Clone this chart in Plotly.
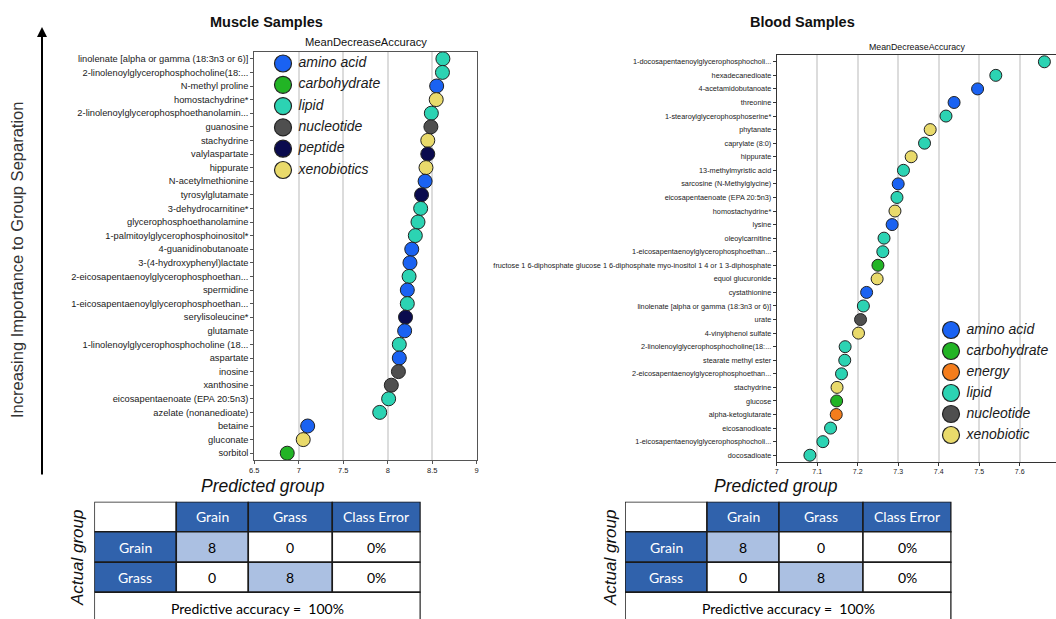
import plotly.graph_objects as go

W, H = 1056, 619

# ---------------- data ----------------
muscle_metabolites = [
    "linolenate [alpha or gamma (18:3n3 or 6)]",
    "2-linolenoylglycerophosphocholine(18:...",
    "N-methyl proline",
    "homostachydrine*",
    "2-linolenoylglycerophosphoethanolamin...",
    "guanosine",
    "stachydrine",
    "valylaspartate",
    "hippurate",
    "N-acetylmethionine",
    "tyrosylglutamate",
    "3-dehydrocarnitine*",
    "glycerophosphoethanolamine",
    "1-palmitoylglycerophosphoinositol*",
    "4-guanidinobutanoate",
    "3-(4-hydroxyphenyl)lactate",
    "2-eicosapentaenoylglycerophosphoethan...",
    "spermidine",
    "1-eicosapentaenoylglycerophosphoethan...",
    "serylisoleucine*",
    "glutamate",
    "1-linolenoylglycerophosphocholine (18...",
    "aspartate",
    "inosine",
    "xanthosine",
    "eicosapentaenoate (EPA 20:5n3)",
    "azelate (nonanedioate)",
    "betaine",
    "gluconate",
    "sorbitol",
]
muscle_mda = [8.62, 8.615, 8.55, 8.545, 8.49, 8.485, 8.45, 8.45, 8.43, 8.42,
              8.38, 8.37, 8.34, 8.31, 8.27, 8.25, 8.24, 8.22, 8.22, 8.20,
              8.19, 8.13, 8.13, 8.12, 8.04, 8.01, 7.91, 7.10, 7.05, 6.87]
muscle_class = ["lipid", "lipid", "amino acid", "xenobiotics", "lipid",
                "nucleotide", "xenobiotics", "peptide", "xenobiotics", "amino acid",
                "peptide", "lipid", "lipid", "lipid", "amino acid",
                "amino acid", "lipid", "amino acid", "lipid", "peptide",
                "amino acid", "lipid", "amino acid", "nucleotide", "nucleotide",
                "lipid", "lipid", "amino acid", "xenobiotics", "carbohydrate"]
muscle_legend = ["amino acid", "carbohydrate", "lipid", "nucleotide", "peptide", "xenobiotics"]

blood_metabolites = [
    "1-docosapentaenoylglycerophosphocholi...",
    "hexadecanedioate",
    "4-acetamidobutanoate",
    "threonine",
    "1-stearoylglycerophosphoserine*",
    "phytanate",
    "caprylate (8:0)",
    "hippurate",
    "13-methylmyristic acid",
    "sarcosine (N-Methylglycine)",
    "eicosapentaenoate (EPA 20:5n3)",
    "homostachydrine*",
    "lysine",
    "oleoylcarnitine",
    "1-eicosapentaenoylglycerophosphoethan...",
    "fructose 1 6-diphosphate glucose 1 6-diphosphate myo-inositol 1 4 or 1 3-diphosphate",
    "equol glucuronide",
    "cystathionine",
    "linolenate [alpha or gamma (18:3n3 or 6)]",
    "urate",
    "4-vinylphenol sulfate",
    "2-linolenoylglycerophosphocholine(18:...",
    "stearate methyl ester",
    "2-eicosapentaenoylglycerophosphoethan...",
    "stachydrine",
    "glucose",
    "alpha-ketoglutarate",
    "eicosanodioate",
    "1-eicosapentaenoylglycerophosphocholi...",
    "docosadioate",
]
blood_mda = [7.661, 7.541, 7.496, 7.438, 7.418, 7.379, 7.365, 7.332, 7.313, 7.300,
             7.297, 7.292, 7.285, 7.265, 7.262, 7.250, 7.248, 7.222, 7.214, 7.207,
             7.202, 7.169, 7.168, 7.160, 7.149, 7.148, 7.147, 7.133, 7.114, 7.082]
blood_class = ["lipid", "lipid", "amino acid", "amino acid", "lipid",
               "xenobiotic", "lipid", "xenobiotic", "lipid", "amino acid",
               "lipid", "xenobiotic", "amino acid", "lipid", "lipid",
               "carbohydrate", "xenobiotic", "amino acid", "lipid", "nucleotide",
               "xenobiotic", "lipid", "lipid", "lipid", "xenobiotic",
               "carbohydrate", "energy", "lipid", "lipid", "lipid"]
blood_legend = ["amino acid", "carbohydrate", "energy", "lipid", "nucleotide", "xenobiotic"]

# confusion matrices
table_cols = ["Grain", "Grass", "Class Error"]
table_rows = ["Grain", "Grass"]
muscle_confusion = [[8, 0], [0, 8]]
muscle_class_error = ["0%", "0%"]
muscle_accuracy = "100%"
blood_confusion = [[8, 0], [0, 8]]
blood_class_error = ["0%", "0%"]
blood_accuracy = "100%"

# ---------------- styling ----------------
class_colors = {
    "amino acid": "#1a62f2",
    "carbohydrate": "#22b425",
    "energy": "#f47d1c",
    "lipid": "#2cd3b3",
    "nucleotide": "#4f4f4f",
    "peptide": "#0a0b4e",
    "xenobiotics": "#e9da6b",
    "xenobiotic": "#e9da6b",
}
SANS = "Liberation Sans, Arial, sans-serif"
NARROW = "Liberation Sans Narrow, Arial Narrow, Liberation Sans, sans-serif"
TABLE_FONT = "Lato, sans-serif"
HEAD_BLUE = "#3062ac"
LIGHT_BLUE = "#abc0e2"


def px_x(p):
    return p / W


def px_y(p):
    return 1 - p / H


fig = go.Figure()

# dot plots
fig.add_trace(go.Scatter(
    x=muscle_mda, y=muscle_metabolites, xaxis="x", yaxis="y", mode="markers",
    marker=dict(size=14, color=[class_colors[c] for c in muscle_class],
                line=dict(color="#222222", width=1)),
    showlegend=False, hoverinfo="x+y"))
fig.add_trace(go.Scatter(
    x=blood_mda, y=blood_metabolites, xaxis="x2", yaxis="y2", mode="markers",
    marker=dict(size=12, color=[class_colors[c] for c in blood_class],
                line=dict(color="#222222", width=1)),
    showlegend=False, hoverinfo="x+y"))


# category keys drawn on a pixel-unit overlay
def add_key(items, x0, y0, step):
    fig.add_trace(go.Scatter(
        x=[x0] * len(items), y=[y0 + i * step for i in range(len(items))],
        xaxis="x5", yaxis="y5", mode="markers+text",
        text=[" " + s for s in items], textposition="middle right",
        textfont=dict(family=SANS, size=14, style="italic", color="#1a1a1a"),
        marker=dict(size=17, color=[class_colors[s] for s in items],
                    line=dict(color="#222222", width=1.2)),
        showlegend=False, hoverinfo="skip", cliponaxis=False))


add_key(muscle_legend, 283, 63.5, 21.3)
add_key(blood_legend, 951, 330, 21)

shapes = []
annotations = []


def add_table(xr, yr, confusion, class_error, accuracy):
    col_edges = [0, 82, 154, 238, 326]
    row_edges = [0, 30, 60.6, 90.6, 124]

    def cell(c, r, fill, text, color):
        shapes.append(dict(type="rect", xref=xr, yref=yr,
                           x0=col_edges[c], x1=col_edges[c + 1],
                           y0=row_edges[r], y1=row_edges[r + 1],
                           fillcolor=fill, line=dict(color="#1a1a1a", width=1.5),
                           layer="below"))
        if text != "":
            annotations.append(dict(xref=xr, yref=yr, showarrow=False,
                                    x=(col_edges[c] + col_edges[c + 1]) / 2,
                                    y=(row_edges[r] + row_edges[r + 1]) / 2,
                                    text=str(text),
                                    font=dict(family=TABLE_FONT, size=14, color=color)))

    cell(0, 0, "white", "", "black")
    for j, name in enumerate(table_cols):
        cell(j + 1, 0, HEAD_BLUE, name, "white")
    for i, name in enumerate(table_rows):
        cell(0, i + 1, HEAD_BLUE, name, "white")
        for j in range(2):
            cell(j + 1, i + 1, LIGHT_BLUE if i == j else "white", confusion[i][j], "black")
        cell(3, i + 1, "white", class_error[i], "black")
    shapes.append(dict(type="rect", xref=xr, yref=yr, x0=col_edges[0], x1=col_edges[-1],
                       y0=row_edges[3], y1=row_edges[4], fillcolor="white",
                       line=dict(color="#1a1a1a", width=1.5), layer="below"))
    annotations.append(dict(xref=xr, yref=yr, showarrow=False,
                            x=col_edges[-1] / 2, y=row_edges[3] + 16,
                            text="Predictive accuracy =  " + accuracy,
                            font=dict(family=TABLE_FONT, size=14, color="black")))


add_table("x3", "y3", muscle_confusion, muscle_class_error, muscle_accuracy)
add_table("x4", "y4", blood_confusion, blood_class_error, blood_accuracy)


# titles and captions
def note(x, y, text, size, bold=False, italic=False, angle=0, family=SANS, color="#111111"):
    annotations.append(dict(xref="paper", yref="paper", x=px_x(x), y=px_y(y),
                            xanchor="center", yanchor="middle", showarrow=False,
                            text=("<b>%s</b>" % text) if bold else text, textangle=angle,
                            font=dict(family=family, size=size, color=color,
                                      style="italic" if italic else "normal")))


note(266, 22, "Muscle Samples", 14.5, bold=True)
note(802, 22, "Blood Samples", 14.5, bold=True)
note(366, 42, "MeanDecreaseAccuracy", 11.2)
note(917, 47, "MeanDecreaseAccuracy", 8.8)
note(263, 486, "Predicted group", 17.5, italic=True)
note(776, 486, "Predicted group", 17.5, italic=True)
note(77, 558, "Actual group", 17, italic=True, angle=-90)
note(610, 558, "Actual group", 17, italic=True, angle=-90)
note(17, 260, "Increasing Importance to Group Separation", 16.5, angle=-90, color="#333333")

# importance arrow
annotations.append(dict(xref="x5", yref="y5", axref="x5", ayref="y5",
                        x=42, y=27, ax=42, ay=476, text="", showarrow=True,
                        arrowhead=2, arrowsize=1, arrowwidth=2, arrowcolor="#000000",
                        standoff=0, startstandoff=0))

axis_common = dict(showgrid=True, gridcolor="#dcdcdc", gridwidth=1.5, zeroline=False,
                   showline=True, mirror=True, ticks="outside", ticklen=3,
                   automargin=False)

fig.update_layout(
    width=W, height=H, margin=dict(l=0, r=0, t=0, b=0),
    paper_bgcolor="white", plot_bgcolor="rgba(0,0,0,0)",
    template="none", font=dict(family=SANS, color="#1a1a1a"),
    showlegend=False,
    xaxis=dict(domain=[px_x(254.3), px_x(476.7)], range=[6.5, 9], anchor="y",
               tickvals=[6.5, 7, 7.5, 8, 8.5, 9], ticktext=["6.5", "7", "7.5", "8", "8.5", "9"],
               linecolor="#555555", linewidth=1, tickcolor="#555555",
               tickfont=dict(family=SANS, size=7.5, color="#222222"), **axis_common),
    yaxis=dict(domain=[px_y(460), px_y(52)], anchor="x", type="category",
               categoryorder="array", categoryarray=muscle_metabolites,
               range=[29.5, -0.5], showgrid=False, zeroline=False,
               showline=True, mirror=True, linecolor="#555555", linewidth=1,
               ticks="outside", ticklen=3, tickcolor="#555555", automargin=False,
               tickfont=dict(family=SANS, size=9.3, color="#1a1a1a")),
    xaxis2=dict(domain=[px_x(776.7), 1.0], range=[7, 7 + (W - 776.7) / 405.0], anchor="y2",
                tickvals=[7, 7.1, 7.2, 7.3, 7.4, 7.5, 7.6, 7.7],
                ticktext=["7", "7.1", "7.2", "7.3", "7.4", "7.5", "7.6", "7.7"],
                linecolor="#333333", linewidth=1, tickcolor="#333333",
                tickfont=dict(family=NARROW, size=7, color="#222222"), **axis_common),
    yaxis2=dict(domain=[px_y(462), px_y(55)], anchor="x2", type="category",
                categoryorder="array", categoryarray=blood_metabolites,
                range=[29.5, -0.5], showgrid=False, zeroline=False,
                showline=True, mirror=True, linecolor="#333333", linewidth=1,
                ticks="outside", ticklen=3, tickcolor="#333333", automargin=False,
                tickfont=dict(family=NARROW, size=7.3, color="#1a1a1a")),
    xaxis3=dict(domain=[px_x(94.3), px_x(420.7)], range=[0, 326.4], visible=False, anchor="y3"),
    yaxis3=dict(domain=[0, px_y(501.7)], range=[117.3, 0], visible=False, anchor="x3"),
    xaxis4=dict(domain=[px_x(625), px_x(951.7)], range=[0, 326.7], visible=False, anchor="y4"),
    yaxis4=dict(domain=[0, px_y(501.7)], range=[117.3, 0], visible=False, anchor="x4"),
    xaxis5=dict(domain=[0, 1], range=[0, W], visible=False, anchor="y5"),
    yaxis5=dict(domain=[0, 1], range=[H, 0], visible=False, anchor="x5"),
    shapes=shapes, annotations=annotations,
)

fig.write_html("out.html")
